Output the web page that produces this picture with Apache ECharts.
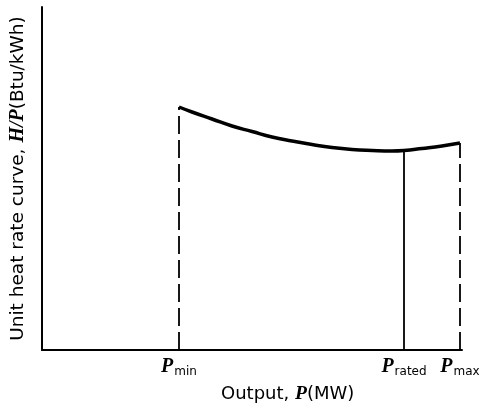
<!DOCTYPE html>
<html><head><meta charset="utf-8">
<script src="https://cdn.jsdelivr.net/npm/echarts@6/dist/echarts.min.js"></script>
<style>html,body{margin:0;padding:0;background:#fff}#c{width:483px;height:413px}</style>
</head><body><div id="c"></div>
<script>
// Output (arbitrary units) and unit heat rate (arbitrary units)
var curveX = [137, 150, 170, 190, 210, 230, 250, 270, 290, 310, 330, 350, 362, 380, 400, 418];
var curveY = [243, 238, 231, 224, 218.5, 213, 209, 205.5, 202.5, 200.5, 199.5, 199, 199.5, 201.5, 204, 207];
var markNames = ['min', 'rated', 'max'];
var markX = [137, 362, 418];
var markY = [243, 199.5, 207];
var markDashed = [true, false, true];
var xMax = 420, yMax = 343;

var chart = echarts.init(document.getElementById('c'));
var series = [{
  type: 'line', smooth: true, symbol: 'none',
  data: curveX.map(function (x, i) { return [x, curveY[i]]; }),
  lineStyle: { color: '#000', width: 3.5 }, z: 5
}];
markX.forEach(function (x, i) {
  series.push({
    type: 'line', symbol: 'none',
    data: [[x, 0], [x, markY[i]]],
    lineStyle: { color: '#000', width: 1.8, type: markDashed[i] ? [18, 6] : 'solid' }
  });
});
var labelMap = {};
markX.forEach(function (x, i) { labelMap[x] = markNames[i]; });
chart.setOption({
  animation: false,
  grid: { left: 42, top: 7, right: 21, bottom: 63, outerBoundsMode: 'none', containLabel: false },
  xAxis: {
    type: 'value', min: 0, max: xMax,
    axisLine: { show: true, lineStyle: { color: '#000', width: 2 } },
    axisTick: { show: false }, splitLine: { show: false },
    axisLabel: {
      customValues: markX, margin: 7,
      formatter: function (v) { return '{p|P}{s|' + labelMap[v] + '}'; },
      rich: {
        p: { fontFamily: 'Liberation Serif', fontStyle: 'italic', fontWeight: 'bold', fontSize: 20, color: '#000', verticalAlign: 'top' },
        s: { fontFamily: 'DejaVu Sans', fontSize: 12, color: '#000', padding: [9, 0, 0, 1] }
      }
    }
  },
  yAxis: {
    type: 'value', min: 0, max: yMax,
    axisLine: { show: true, lineStyle: { color: '#000', width: 2 } },
    axisTick: { show: false }, splitLine: { show: false }, axisLabel: { show: false },
    name: '{a|Unit heat rate curve, }{b|H/P}{a|(Btu/kWh)}',
    nameLocation: 'middle', nameRotate: 90, nameGap: 14,
    nameTextStyle: {
      rich: {
        a: { fontFamily: 'DejaVu Sans', fontSize: 18.5, color: '#000' },
        b: { fontFamily: 'Liberation Serif', fontStyle: 'italic', fontWeight: 'bold', fontSize: 20, color: '#000' }
      }
    }
  },
  title: {
    text: '{a|Output, }{b|P}{a|(MW)}', left: 216, top: 379,
    textStyle: {
      fontWeight: 'normal',
      rich: {
        a: { fontFamily: 'DejaVu Sans', fontSize: 18, color: '#000', fontWeight: 'normal' },
        b: { fontFamily: 'Liberation Serif', fontStyle: 'italic', fontWeight: 'bold', fontSize: 19.5, color: '#000' }
      }
    }
  },
  series: series
});
</script></body></html>
